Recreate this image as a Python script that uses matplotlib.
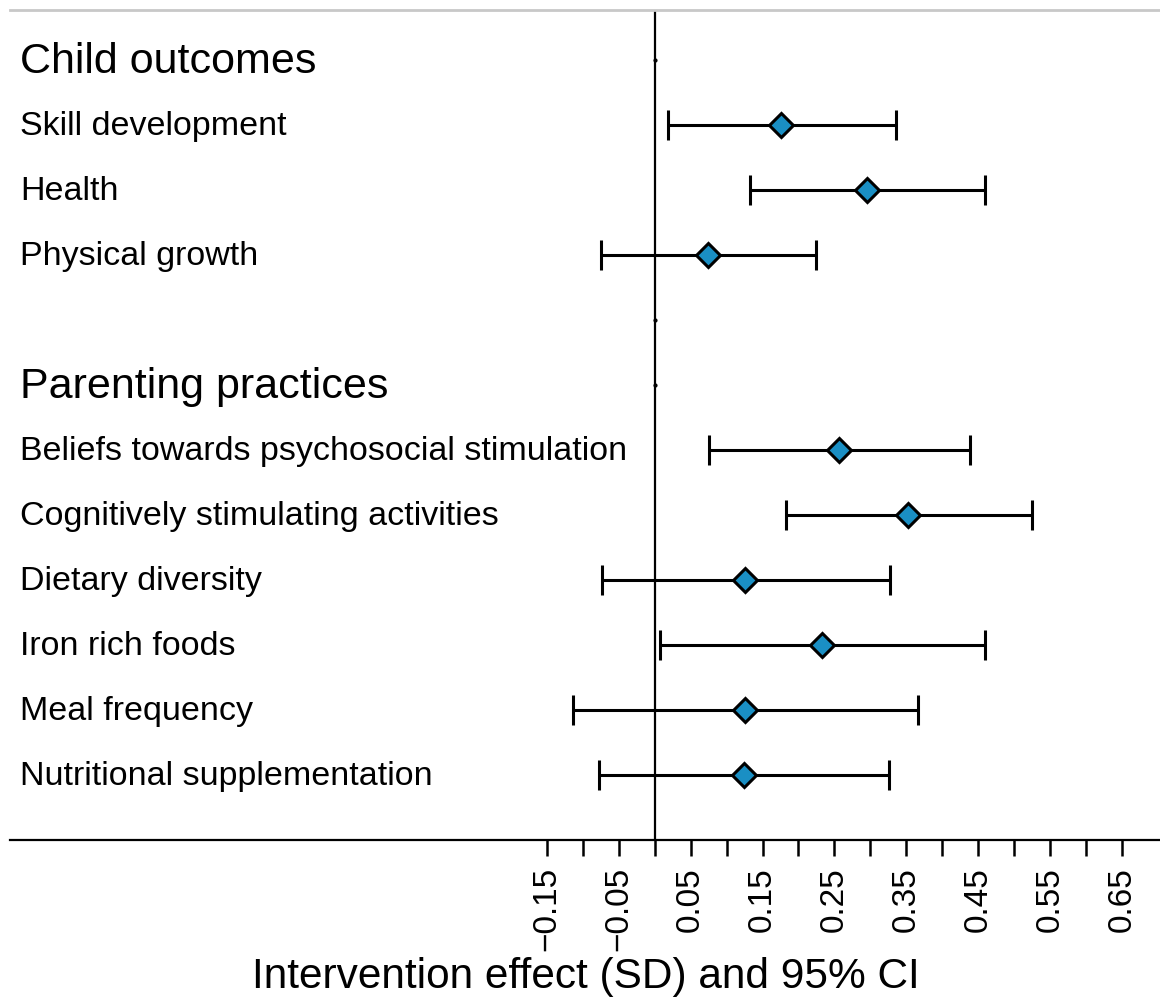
import matplotlib
matplotlib.use("Agg")
import matplotlib.pyplot as plt
import numpy as np

# Data
rows = ["Child outcomes", "Skill development", "Health", "Physical growth", "",
        "Parenting practices", "Beliefs towards psychosocial stimulation",
        "Cognitively stimulating activities", "Dietary diversity", "Iron rich foods",
        "Meal frequency", "Nutritional supplementation"]
is_header = [True, False, False, False, True, True, False, False, False, False, False, False]
est = [np.nan, 0.176, 0.296, 0.074, np.nan, np.nan, 0.256, 0.352, 0.125, 0.233, 0.125, 0.124]
lo  = [np.nan, 0.018, 0.133, -0.075, np.nan, np.nan, 0.075, 0.183, -0.073, 0.008, -0.114, -0.078]
hi  = [np.nan, 0.336, 0.459, 0.224, np.nan, np.nan, 0.438, 0.525, 0.327, 0.459, 0.366, 0.326]
tick_vals = [round(-0.15 + 0.05 * i, 2) for i in range(17)]
tick_labels = [("%.2f" % v).replace("-", "\u2212") if i % 2 == 0 else ""
               for i, v in enumerate(tick_vals)]
xlabel = "Intervention effect (SD) and 95% CI"

W, H = 1160, 1002
fig = plt.figure(figsize=(W / 100, H / 100), dpi=100)
ax = fig.add_axes([10 / W, 1 - 840 / H, 1 - 10 / W, (840 - 10) / H])

font = ['Liberation Sans', 'DejaVu Sans']
y = np.arange(len(rows))
est_a = np.array(est); lo_a = np.array(lo); hi_a = np.array(hi)
m = ~np.isnan(est_a)

ax.axvline(0, color='black', lw=1.6, zorder=1)
ax.errorbar(est_a[m], y[m], xerr=[est_a[m] - lo_a[m], hi_a[m] - est_a[m]],
            fmt='none', ecolor='black', elinewidth=2.2, capsize=11, capthick=2.2, zorder=2)
ax.plot(est_a[m], y[m], 'D', ms=12, mfc='#1a8fc4', mec='black', mew=2.2, zorder=3, ls='none')
hm = np.array(is_header)
ax.plot(np.zeros(hm.sum()), y[hm], 'o', ms=2, color='black', zorder=3, ls='none')

ax.set_xlim(-0.897, 0.703)
ax.set_ylim(12, -0.77)

trans = ax.get_yaxis_transform()
for i, (r, h) in enumerate(zip(rows, is_header)):
    if not r:
        continue
    ax.text(10 / (W - 10), i + 0.03, r, transform=trans,
            ha='left', va='center', fontsize=31 if h else 24.5, family=font)

for s in ['left', 'right']:
    ax.spines[s].set_visible(False)
ax.spines['top'].set_color('#c8c8c8')
ax.spines['top'].set_linewidth(2)
ax.spines['bottom'].set_linewidth(1.6)
ax.set_yticks([])
ax.set_xticks(tick_vals)
ax.set_xticklabels(tick_labels, rotation=90, family=font, fontsize=24)
ax.tick_params(axis='x', direction='out', length=11.5, width=1.8, pad=8)
ax.set_xlabel(xlabel, family=font, fontsize=30.5)
ax.xaxis.label.set_verticalalignment('center')
ax.xaxis.set_label_coords((586 - 10) / (W - 10), -(977 - 840) / (840 - 10))

fig.savefig("out.png", dpi=100)
